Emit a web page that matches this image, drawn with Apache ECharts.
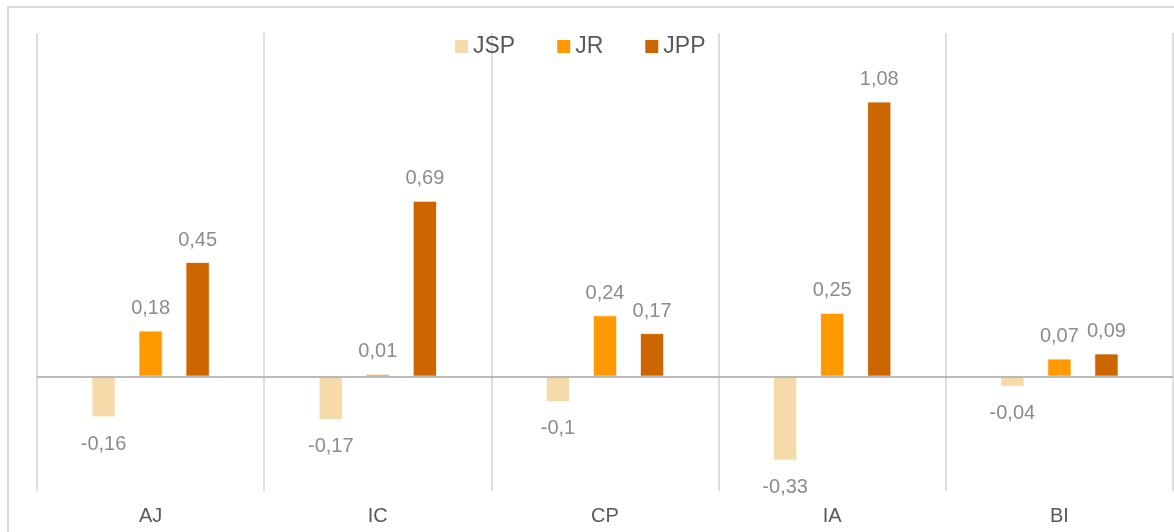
<!DOCTYPE html>
<html>
<head>
<meta charset="utf-8">
<script src="https://cdn.jsdelivr.net/npm/echarts@6/dist/echarts.min.js"></script>
<style>
html,body{margin:0;padding:0;background:#fff;}
#c{width:1174px;height:532px;}
</style>
</head>
<body>
<div id="c"></div>
<script>
var categories = ['AJ', 'IC', 'CP', 'IA', 'BI'];
var seriesNames = ['JSP', 'JR', 'JPP'];
var jsp = [-0.16, -0.17, -0.1, -0.33, -0.04];
var jr = [0.18, 0.01, 0.24, 0.25, 0.07];
var jpp = [0.45, 0.69, 0.17, 1.08, 0.09];
var colors = ['#F5DBAA', '#FF9900', '#CC6600'];

function fmt(v) { return String(v).replace('.', ','); }
function items(arr) {
  return arr.map(function (v) {
    return {
      value: v,
      label: v < 0 ? { position: 'bottom', distance: 17 } : { position: 'top', distance: 12 }
    };
  });
}

var chart = echarts.init(document.getElementById('c'));
var values = [jsp, jr, jpp];
var series = values.map(function (arr, i) {
  var s = {
    name: seriesNames[i],
    type: 'bar',
    data: items(arr),
    barWidth: 24,
    barGap: '96%',
    itemStyle: { color: colors[i], borderColor: '#ffffff', borderWidth: 0.75 },
    label: {
      show: true,
      color: '#8C8C8C',
      fontSize: 20,
      fontFamily: 'Liberation Sans',
      formatter: function (p) { return fmt(p.value); }
    }
  };
  if (i === 0) {
    s.markLine = {
      silent: true,
      symbol: ['none', 'none'],
      label: { show: false },
      lineStyle: { color: '#A6A6A6', width: 1.5, type: 'solid' },
      data: [{ yAxis: 0 }],
      z: 5
    };
  }
  return s;
});

chart.setOption({
  animation: false,
  backgroundColor: '#ffffff',
  textStyle: { fontFamily: 'Liberation Sans' },
  graphic: [{
    type: 'rect',
    shape: { x: 8, y: 7, width: 1180, height: 540 },
    style: { fill: 'none', stroke: '#D9D9D9', lineWidth: 2 },
    silent: true
  }],
  legend: {
    left: 450,
    top: 30,
    icon: 'rect',
    itemWidth: 13,
    itemHeight: 13,
    itemGap: 42,
    itemStyle: { borderWidth: 0 },
    textStyle: { color: '#595959', fontSize: 23, fontFamily: 'Liberation Sans' },
    data: seriesNames
  },
  grid: { left: 37, right: 1, top: 33, bottom: 41, containLabel: false },
  xAxis: {
    type: 'category',
    data: categories,
    axisLine: { show: false },
    axisTick: { show: false },
    splitLine: { show: true, lineStyle: { color: '#DDDDDD', width: 2 } },
    axisLabel: { color: '#595959', fontSize: 20, margin: 15, fontFamily: 'Liberation Sans' }
  },
  yAxis: {
    type: 'value',
    min: -0.45,
    max: 1.35,
    show: false,
    splitLine: { show: false }
  },
  series: series
});
</script>
</body>
</html>
